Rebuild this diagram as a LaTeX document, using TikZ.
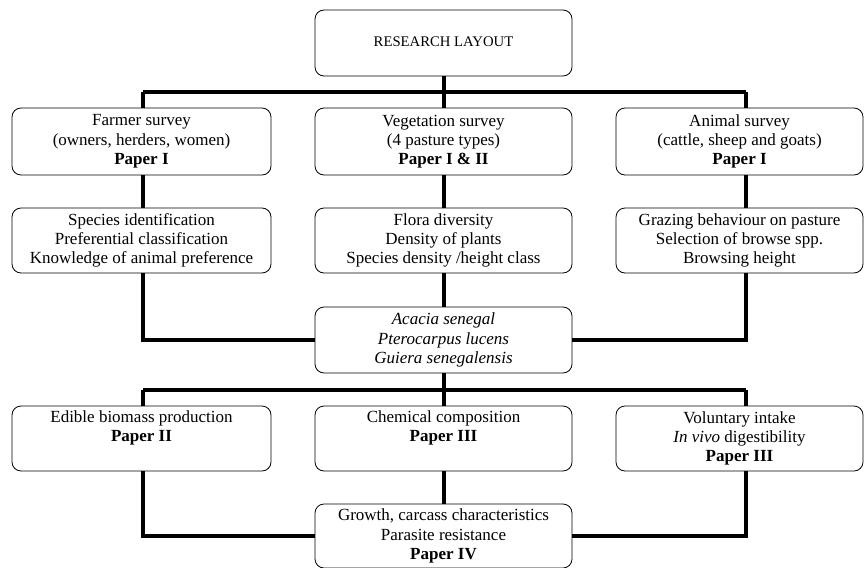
\documentclass[tikz,border=0pt]{standalone}
\usepackage{fontspec}
\setmainfont{Liberation Serif}
\begin{document}
\begin{tikzpicture}[x=1pt,y=-1pt,
  box/.style={draw, line width=0.8pt, rounded corners=9pt, align=center, inner sep=0pt,
    font=\fontsize{17}{19.3}\selectfont},
  colL/.style={minimum width=259pt},
  colM/.style={minimum width=257pt},
  colR/.style={minimum width=247pt},
  conn/.style={line width=4pt}]
\useasboundingbox (0,0) rectangle (866,567);
% column x positions of connectors
\coordinate (xL) at (143,0);
\coordinate (xM) at (443.5,0);
\coordinate (xR) at (746,0);
% nodes
\node[box,colM,minimum height=66pt,font=\fontsize{14.7}{18}\selectfont] (top) at (443.5,43) {\raisebox{3pt}{RESEARCH LAYOUT}};
\node[box,colL,minimum height=67pt] (a1) at (141.5,141.5) {Farmer survey\\(owners, herders, women)\\\textbf{Paper I}};
\node[box,colM,minimum height=67pt] (b1) at (443.5,141.5) {Vegetation survey\\(4 pasture types)\\\textbf{Paper I \& II}};
\node[box,colR,minimum height=67pt] (c1) at (739.5,141.5) {Animal survey\\(cattle, sheep and goats)\\\textbf{Paper I}};
\node[box,colL,minimum height=65pt] (a2) at (141.5,240.5) {Species identification\\Preferential classification\\Knowledge of animal preference};
\node[box,colM,minimum height=65pt] (b2) at (443.5,240.5) {Flora diversity\\Density of plants\\Species density /height class};
\node[box,colR,minimum height=65pt] (c2) at (739.5,240.5) {Grazing behaviour on pasture\\Selection of browse spp.\\Browsing height};
\node[box,colM,minimum height=66pt] (sp) at (443.5,340) {\textit{Acacia senegal}\\\textit{Pterocarpus lucens}\\\textit{Guiera senegalensis}};
\node[box,colL,minimum height=65pt] (a3) at (141.5,438.5) {Edible biomass production\\\textbf{Paper II}\\\strut};
\node[box,colM,minimum height=65pt] (b3) at (443.5,438.5) {Chemical composition\\\textbf{Paper III}\\\strut};
\node[box,colR,minimum height=65pt] (c3) at (739.5,438.5) {Voluntary intake\\\textit{In vivo} digestibility\\\textbf{Paper III}};
\node[box,colM,minimum height=64pt] (bt) at (443.5,536) {Growth, carcass characteristics\\Parasite resistance\\\textbf{Paper IV}};
% connectors: top to row 1
\draw[conn] (top.south) -- ++(0,16) coordinate (j1);
\draw[conn] (j1 -| xL) -- (j1 -| xR);
\draw[conn] (j1 -| xL) -- (a1.north -| xL);
\draw[conn] (j1) -- (b1.north);
\draw[conn] (j1 -| xR) -- (c1.north -| xR);
% row 1 to row 2
\draw[conn] (a1.south -| xL) -- (a2.north -| xL);
\draw[conn] (b1.south) -- (b2.north);
\draw[conn] (c1.south -| xR) -- (c2.north -| xR);
% row 2 to species
\draw[conn] (a2.south -| xL) |- (sp.west);
\draw[conn] (b2.south) -- (sp.north);
\draw[conn] (c2.south -| xR) |- (sp.east);
% species to row 3
\draw[conn] (sp.south) -- ++(0,17) coordinate (j2);
\draw[conn] (j2 -| xL) -- (j2 -| xR);
\draw[conn] (j2 -| xL) -- (a3.north -| xL);
\draw[conn] (j2) -- (b3.north);
\draw[conn] (j2 -| xR) -- (c3.north -| xR);
% row 3 to bottom
\draw[conn] (a3.south -| xL) |- (bt.west);
\draw[conn] (b3.south) -- (bt.north);
\draw[conn] (c3.south -| xR) |- (bt.east);
\end{tikzpicture}
\end{document}
